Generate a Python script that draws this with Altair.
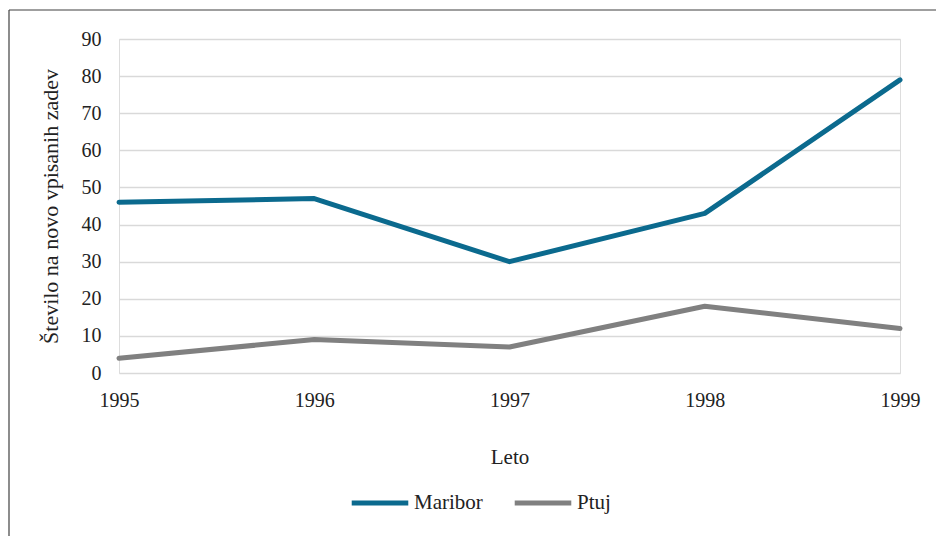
import altair as alt
import pandas as pd

years = [1995, 1996, 1997, 1998, 1999]
maribor = [46, 47, 30, 43, 79]
ptuj = [4, 9, 7, 18, 12]
series_names = ["Maribor", "Ptuj"]
colors = ["#0B6A8E", "#808080"]

rows = []
for y, v in zip(years, maribor):
    rows.append({"Leto": y, "Vrednost": v, "Serija": "Maribor"})
for y, v in zip(years, ptuj):
    rows.append({"Leto": y, "Vrednost": v, "Serija": "Ptuj"})
df = pd.DataFrame(rows)

FONT = "Liberation Serif"

lines = alt.Chart(df).mark_line(strokeWidth=5, strokeCap="round", strokeJoin="round").encode(
    x=alt.X("Leto:Q",
            scale=alt.Scale(domain=[1995, 1999], nice=False, zero=False),
            axis=alt.Axis(title="Leto", values=years, format="d", grid=False, domain=False,
                          ticks=False, labelPadding=17, titlePadding=36,
                          labelFontSize=20, titleFontSize=21, labelColor="#222222",
                          titleColor="#222222", titleFontWeight="normal",
                          labelFont=FONT, titleFont=FONT, labelFlush=False)),
    y=alt.Y("Vrednost:Q",
            scale=alt.Scale(domain=[0, 90], nice=False),
            axis=alt.Axis(title="Število na novo vpisanih zadev", values=list(range(0, 91, 10)),
                          grid=True, gridColor="#d9d9d9", gridWidth=1.5, domain=False,
                          ticks=False, labelPadding=18, titlePadding=19,
                          labelFontSize=20, titleFontSize=22, labelColor="#222222",
                          titleColor="#222222", titleFontWeight="normal",
                          labelFont=FONT, titleFont=FONT)),
    color=alt.Color("Serija:N",
                    scale=alt.Scale(domain=series_names, range=colors),
                    legend=alt.Legend(title=None, orient="none", direction="horizontal",
                                      legendX=230, legendY=433,
                                      symbolType="stroke", symbolSize=3200,
                                      symbolStrokeWidth=5, labelFontSize=21,
                                      labelFont=FONT, labelColor="#222222",
                                      columnPadding=21, labelOffset=3)),
)

frame_df = pd.DataFrame({"a": [0]})
frame_v = alt.Chart(frame_df).mark_rule(color="#404040", strokeWidth=1.2).encode(
    x=alt.value(-110), y=alt.value(-29), y2=alt.value(700))
frame_h = alt.Chart(frame_df).mark_rule(color="#404040", strokeWidth=1.2).encode(
    x=alt.value(-110), x2=alt.value(1000), y=alt.value(-29))

chart = alt.layer(frame_v, frame_h, lines).properties(
    width=781, height=334,
    autosize=alt.AutoSizeParams(type="none"),
    padding={"left": 111, "top": 31, "right": 36, "bottom": 175},
    background="white",
).configure_view(stroke=None).configure(font=FONT)

chart.save("out.html", embed_options={"renderer": "svg", "actions": False})
